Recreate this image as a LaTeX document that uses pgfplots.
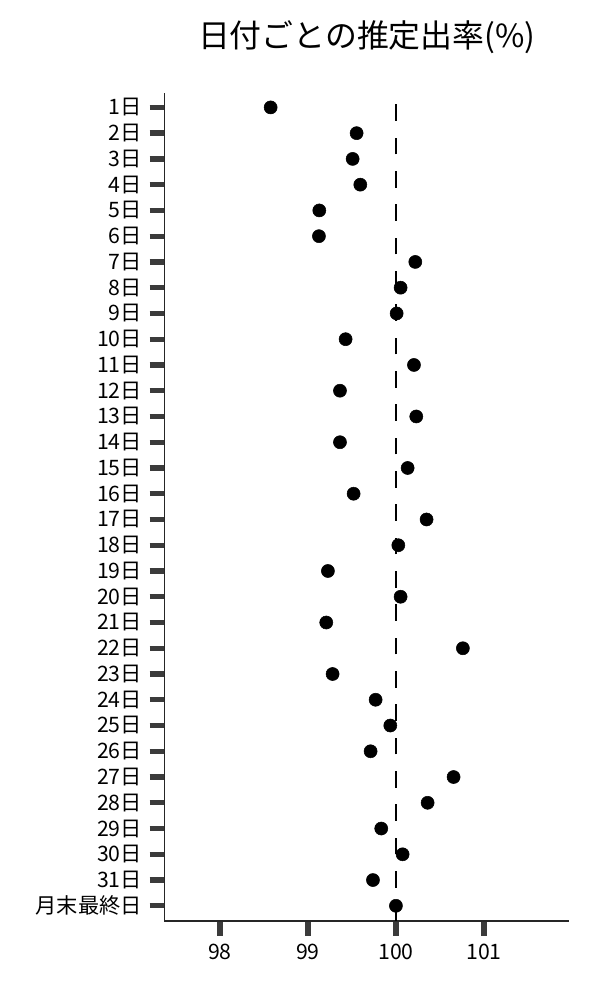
\documentclass[border=0pt]{standalone}
\usepackage{fontspec}
\setmainfont{Noto Sans CJK JP}
\usepackage{pgfplots}
\pgfplotsset{compat=1.18}

% estimated rate per day, row 0 = 1日 ... row 31 = 月末最終日 (plotted at y = 31 - row)
\begin{document}
\begin{tikzpicture}
  % page = 600x1000 px at 0.75 bp per px; axis box lower-left at (0,0)
  \useasboundingbox (-123.2bp,-59.25bp) rectangle (326.8bp,690.75bp);
  \begin{axis}[
      scale only axis,
      width=303.75bp, height=621.2bp,
      at={(0,0)}, anchor=south west,
      xmin=97.367, xmax=101.97,
      ymin=-0.59, ymax=31.57,
      axis x line*=bottom, axis y line*=left,
      axis line style={black!85, line width=0.9bp, -},
      tick align=outside,
      major tick length=11bp,
      every tick/.style={black!77, line width=4bp},
      xtick={98,99,100,101},
      ytick={0,...,31},
      yticklabels={月末最終日,31日,30日,29日,28日,27日,26日,25日,24日,23日,22日,21日,20日,19日,18日,17日,16日,15日,14日,13日,12日,11日,10日,9日,8日,7日,6日,5日,4日,3日,2日,1日},
      /pgf/number format/assume math mode=true,
      tick label style={font=\fontsize{16}{19}\selectfont, black},
      yticklabel style={xshift=-2.2bp},
      xticklabel style={yshift=-3bp},
      title={日付ごとの推定出率(\%)},
      title style={font=\fontsize{24}{28}\selectfont, at={(0.5,1)}, anchor=center, yshift=36bp},
      clip=false,
    ]
    \addplot[black, line width=1.5bp, dash pattern=on 12.5bp off 12.5bp]
      coordinates {(100,-0.59) (100,31.57)};
    \addplot[only marks, mark=*, mark size=4.9bp, black]
      coordinates {
        (98.576,31) (99.553,30) (99.508,29) (99.595,28) (99.129,27)
        (99.125,26) (100.220,25) (100.053,24) (100.008,23) (99.428,22)
        (100.205,21) (99.364,20) (100.231,19) (99.364,18) (100.133,17)
        (99.519,16) (100.348,15) (100.027,14) (99.227,13) (100.053,12)
        (99.208,11) (100.761,10) (99.280,9) (99.769,8) (99.936,7)
        (99.712,6) (100.655,5) (100.360,4) (99.833,3) (100.076,2)
        (99.739,1) (100.000,0)
      };
  \end{axis}
\end{tikzpicture}
\end{document}
